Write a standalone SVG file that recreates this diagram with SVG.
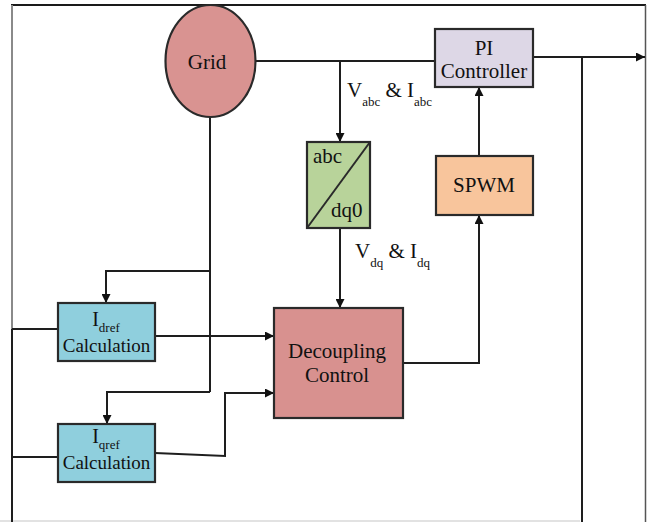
<svg xmlns="http://www.w3.org/2000/svg" width="648" height="522" viewBox="0 0 648 522">
  <style>
    .ln { fill: none; stroke: #1e1e1e; stroke-width: 2; }
    .box { stroke: #2a2a2a; stroke-width: 2.2; }
    .t { font-family: "Liberation Serif", "Times New Roman", serif; fill: #111; }
    .lbl { font-size: 21px; }
    .sub { font-size: 13px; }
  </style>
  <defs>
    <marker id="arr" viewBox="0 0 10 10" refX="10" refY="5" markerWidth="9" markerHeight="9" markerUnits="userSpaceOnUse" orient="auto">
      <path d="M0,0 L10,5 L0,10 z" fill="#111"/>
    </marker>
  </defs>

  <rect width="648" height="522" fill="#ffffff"/>

  <!-- outer frame -->
  <g id="frame">
    <line x1="11" y1="5" x2="646" y2="5" stroke="#1a1a1a" stroke-width="2"/>
    <line x1="12" y1="5" x2="12" y2="330" stroke="#8a8a8a" stroke-width="2"/>
    <line x1="645.5" y1="5" x2="645.5" y2="522" stroke="#555" stroke-width="1.5"/>
    <line x1="0" y1="521" x2="580" y2="521" stroke="#d8d8d8" stroke-width="1.5"/>
  </g>

  <!-- connectors -->
  <g id="connectors">
    <line class="ln" x1="256" y1="61" x2="435" y2="61"/>
    <line class="ln" x1="340" y1="61" x2="340" y2="142" marker-end="url(#arr)"/>
    <line class="ln" x1="340" y1="228" x2="340" y2="308" marker-end="url(#arr)"/>
    <line class="ln" x1="533" y1="57" x2="645" y2="57" marker-end="url(#arr)"/>
    <line class="ln" x1="582" y1="57" x2="582" y2="522"/>
    <line class="ln" x1="479" y1="156" x2="479" y2="87" marker-end="url(#arr)"/>
    <polyline class="ln" points="403,363 479,363 479,215" marker-end="url(#arr)"/>
    <line class="ln" x1="210" y1="117" x2="210" y2="392"/>
    <polyline class="ln" points="210,271 106,271 106,303" marker-end="url(#arr)"/>
    <polyline class="ln" points="210,392 107,392 107,424" marker-end="url(#arr)"/>
    <line class="ln" x1="155" y1="336" x2="274" y2="336" marker-end="url(#arr)"/>
    <polyline class="ln" points="155,453 225,456 225,393 274,393" marker-end="url(#arr)"/>
    <line class="ln" x1="12" y1="329" x2="12" y2="522"/>
    <line class="ln" x1="12" y1="329" x2="58" y2="329"/>
    <line class="ln" x1="12" y1="457" x2="58" y2="457"/>
  </g>

  <g id="grid">
    <ellipse class="box" cx="210.5" cy="61" rx="45" ry="56" fill="#d99391"/>
    <text class="t lbl" x="207" y="69" text-anchor="middle">Grid</text>
  </g>

  <g id="pi-controller">
    <rect class="box" x="435" y="29" width="98" height="58" fill="#ddd7e6"/>
    <text class="t lbl" x="484" y="55" text-anchor="middle">PI</text>
    <text class="t lbl" x="484" y="78" text-anchor="middle">Controller</text>
  </g>

  <g id="abc-dq0">
    <rect class="box" x="307" y="142" width="63" height="86" fill="#b8d39a"/>
    <line x1="307" y1="228" x2="370" y2="142" stroke="#2a2a2a" stroke-width="2"/>
    <text class="t lbl" x="313" y="163">abc</text>
    <text class="t lbl" x="331" y="217">dq0</text>
  </g>

  <g id="spwm">
    <rect class="box" x="436" y="156" width="97" height="59" fill="#f8c59c"/>
    <text class="t lbl" x="484" y="192" text-anchor="middle">SPWM</text>
  </g>

  <g id="decoupling-control">
    <rect class="box" x="274" y="308" width="129" height="110" fill="#d8918f"/>
    <text class="t lbl" x="337" y="358" text-anchor="middle">Decoupling</text>
    <text class="t lbl" x="337" y="382" text-anchor="middle">Control</text>
  </g>

  <g id="idref-calculation">
    <rect class="box" x="58" y="303" width="97" height="58" fill="#8fcfdd"/>
    <text class="t" x="106" y="326" text-anchor="middle"><tspan font-size="20">I</tspan><tspan font-size="13" dy="6">dref</tspan></text>
    <text class="t" x="106.5" y="352" text-anchor="middle" font-size="19">Calculation</text>
  </g>

  <g id="iqref-calculation">
    <rect class="box" x="58" y="424" width="97" height="58" fill="#8fcfdd"/>
    <text class="t" x="106" y="443" text-anchor="middle"><tspan font-size="20">I</tspan><tspan font-size="13" dy="6">qref</tspan></text>
    <text class="t" x="106.5" y="469" text-anchor="middle" font-size="19">Calculation</text>
  </g>

  <g id="labels">
    <text class="t" x="347" y="97"><tspan font-size="21">V</tspan><tspan font-size="13" dy="9">abc</tspan><tspan font-size="21" dy="-9"> &amp; I</tspan><tspan font-size="13" dy="9">abc</tspan></text>
    <text class="t" x="355" y="258"><tspan font-size="21">V</tspan><tspan font-size="13" dy="9">dq</tspan><tspan font-size="21" dy="-9"> &amp; I</tspan><tspan font-size="13" dy="9">dq</tspan></text>
  </g>
</svg>
